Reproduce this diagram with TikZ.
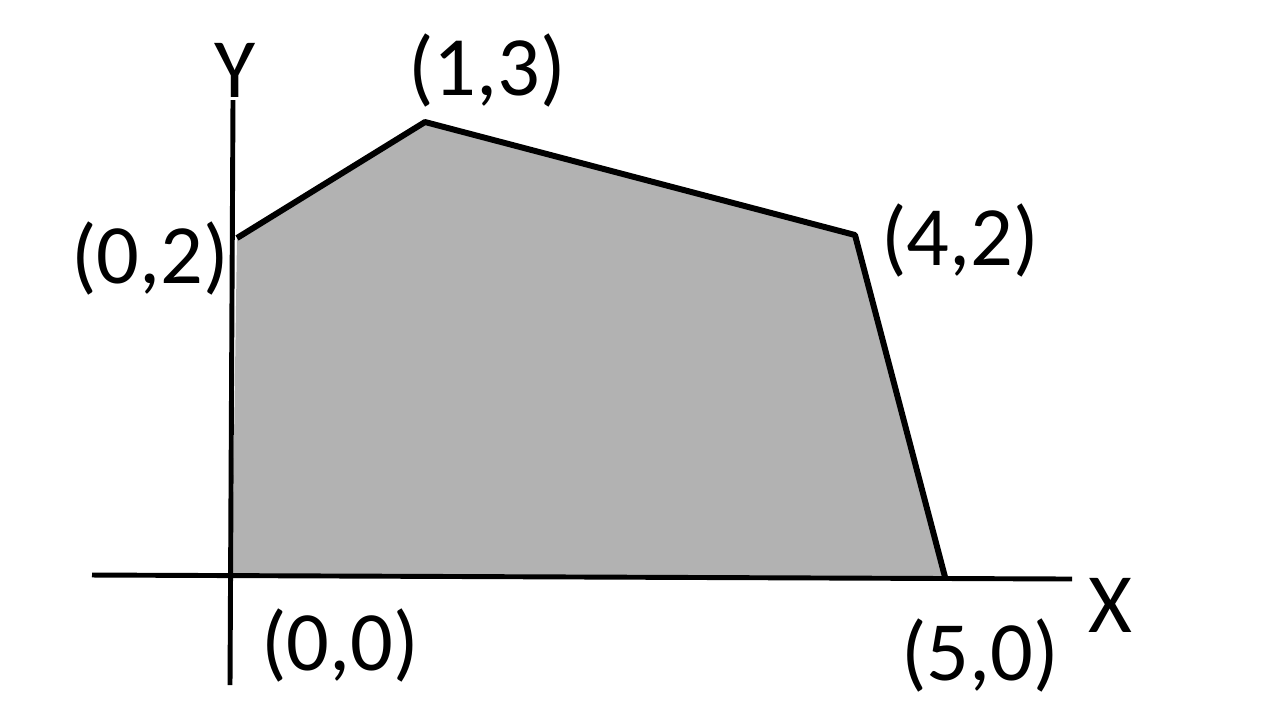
\documentclass[tikz,border=0pt]{standalone}
\usepackage{fontspec}
\setmainfont{Carlito}
\begin{document}
\begin{tikzpicture}[x=0.01cm,y=-0.01cm,
  lbl/.style={inner sep=0pt,font=\fontsize{24}{28}\selectfont},
  axis/.style={line width=1.4pt,black},
  edge/.style={line width=1.7pt,black,line join=round}]
\useasboundingbox (0,0) rectangle (1280,723);
\coordinate (o) at (232,576);
\coordinate (a) at (237,238);
\coordinate (b) at (425,122);
\coordinate (c) at (855,235);
\coordinate (d) at (945,577);
\coordinate (yb) at (230,685);
\coordinate (yt) at (233,100);
\coordinate (xl) at (92,575);
\coordinate (xr) at (1072,579);
\fill[black!30] (o) -- (a) -- (b) -- (c) -- (d) -- cycle;
\draw[axis] (yb) -- (yt);
\draw[axis] (xl) -- (xr);
\draw[edge] (a) -- (b) -- (c) -- (d);
\node[lbl] (ly) at (235,70) {Y};
\node[lbl] (lx) at (1110,605) {X};
\node[lbl] (lb) at (487,70) {(1,3)};
\node[lbl] (la) at (150,258) {(0,2)};
\node[lbl] (lc) at (960,240) {(4,2)};
\node[lbl] (lo) at (340,645) {(0,0)};
\node[lbl] (ld) at (980,655) {(5,0)};
\end{tikzpicture}
\end{document}
